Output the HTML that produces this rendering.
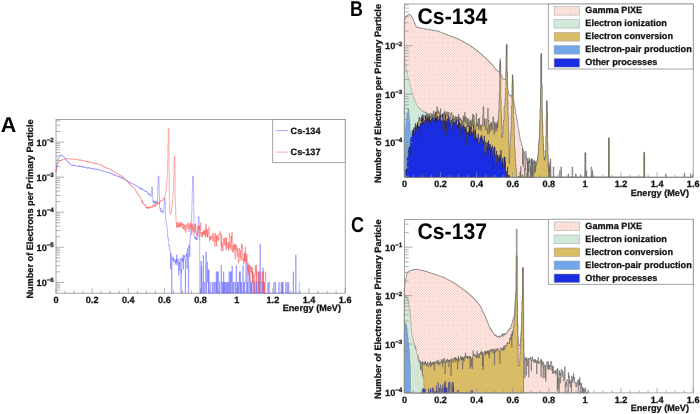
<!DOCTYPE html>
<html><head><meta charset="utf-8"><title>Electron spectra Cs-134 / Cs-137</title>
<style>html,body{margin:0;padding:0;background:#fff}svg{display:block;filter:blur(0.4px)}text{font-family:"Liberation Sans", sans-serif;font-weight:bold;fill:#141414;text-rendering:geometricPrecision}.t{font-size:9.15px;stroke:#141414;stroke-width:0.28px}.big{font-size:22.6px;fill:#000}.pn{font-size:21.5px;fill:#000}</style></head><body>
<svg width="700" height="414" viewBox="0 0 700 414">
<defs><pattern id="hx" width="33" height="33" patternUnits="userSpaceOnUse"><rect width="33" height="33" fill="#fffaf8"/><path d="M30.46 0L33 2.54M27.92 0L33 5.08M25.38 0L33 7.62M22.85 0L33 10.15M20.31 0L33 12.69M17.77 0L33 15.23M15.23 0L33 17.77M12.69 0L33 20.31M10.15 0L33 22.85M7.62 0L33 25.38M5.08 0L33 27.92M2.54 0L33 30.46M0 0L33 33M0 2.54L30.46 33M0 5.08L27.92 33M0 7.62L25.38 33M0 10.15L22.85 33M0 12.69L20.31 33M0 15.23L17.77 33M0 17.77L15.23 33M0 20.31L12.69 33M0 22.85L10.15 33M0 25.38L7.62 33M0 27.92L5.08 33M0 30.46L2.54 33M0 2.54L2.54 0M0 5.08L5.08 0M0 7.62L7.62 0M0 10.15L10.15 0M0 12.69L12.69 0M0 15.23L15.23 0M0 17.77L17.77 0M0 20.31L20.31 0M0 22.85L22.85 0M0 25.38L25.38 0M0 27.92L27.92 0M0 30.46L30.46 0M0 33L33 0M2.54 33L33 2.54M5.08 33L33 5.08M7.62 33L33 7.62M10.15 33L33 10.15M12.69 33L33 12.69M15.23 33L33 15.23M17.77 33L33 17.77M20.31 33L33 20.31M22.85 33L33 22.85M25.38 33L33 25.38M27.92 33L33 27.92M30.46 33L33 30.46" stroke="#f5baae" stroke-width="0.6" stroke-linecap="square"/></pattern></defs>
<rect width="700" height="414" fill="#fff"/>
<g id="panelA">
<rect x="56" y="119.4" width="289.2" height="173.8" fill="none" stroke="#8f8f8f" stroke-width="0.8"/>
<path d="M56 293.2v-5M65.04 293.2v-2.6M74.08 293.2v-2.6M83.11 293.2v-2.6M92.15 293.2v-5M101.19 293.2v-2.6M110.22 293.2v-2.6M119.26 293.2v-2.6M128.3 293.2v-5M137.34 293.2v-2.6M146.38 293.2v-2.6M155.41 293.2v-2.6M164.45 293.2v-5M173.49 293.2v-2.6M182.52 293.2v-2.6M191.56 293.2v-2.6M200.6 293.2v-5M209.64 293.2v-2.6M218.67 293.2v-2.6M227.71 293.2v-2.6M236.75 293.2v-5M245.79 293.2v-2.6M254.82 293.2v-2.6M263.86 293.2v-2.6M272.9 293.2v-5M281.94 293.2v-2.6M290.97 293.2v-2.6M300.01 293.2v-2.6M309.05 293.2v-5M318.09 293.2v-2.6M327.12 293.2v-2.6M336.16 293.2v-2.6M345.2 293.2v-5M56 290.19h4.2M56 287.84h4.2M56 285.8h4.2M56 284.01h4.2M56 282.4h8M56 271.83h4.2M56 265.65h4.2M56 261.27h4.2M56 257.87h4.2M56 255.09h4.2M56 252.74h4.2M56 250.7h4.2M56 248.91h4.2M56 247.3h8M56 236.73h4.2M56 230.55h4.2M56 226.17h4.2M56 222.77h4.2M56 219.99h4.2M56 217.64h4.2M56 215.6h4.2M56 213.81h4.2M56 212.2h8M56 201.63h4.2M56 195.45h4.2M56 191.07h4.2M56 187.67h4.2M56 184.89h4.2M56 182.54h4.2M56 180.5h4.2M56 178.71h4.2M56 177.1h8M56 166.53h4.2M56 160.35h4.2M56 155.97h4.2M56 152.57h4.2M56 149.79h4.2M56 147.44h4.2M56 145.4h4.2M56 143.61h4.2M56 142h8M56 131.43h4.2M56 125.25h4.2M56 120.87h4.2" stroke="#8f8f8f" stroke-width="0.7" fill="none"/>
<text x="56" y="302.7" text-anchor="middle" class="t">0</text>
<text x="92.15" y="302.7" text-anchor="middle" class="t">0.2</text>
<text x="128.3" y="302.7" text-anchor="middle" class="t">0.4</text>
<text x="164.45" y="302.7" text-anchor="middle" class="t">0.6</text>
<text x="200.6" y="302.7" text-anchor="middle" class="t">0.8</text>
<text x="236.75" y="302.7" text-anchor="middle" class="t">1</text>
<text x="272.9" y="302.7" text-anchor="middle" class="t">1.2</text>
<text x="309.05" y="302.7" text-anchor="middle" class="t">1.4</text>
<text x="345.2" y="302.7" text-anchor="middle" class="t">1.6</text>
<text x="53.8" y="145.7" text-anchor="end" class="t">10<tspan dy="-3.8" font-size="6.2">−2</tspan></text>
<text x="53.8" y="180.8" text-anchor="end" class="t">10<tspan dy="-3.8" font-size="6.2">−3</tspan></text>
<text x="53.8" y="215.9" text-anchor="end" class="t">10<tspan dy="-3.8" font-size="6.2">−4</tspan></text>
<text x="53.8" y="251" text-anchor="end" class="t">10<tspan dy="-3.8" font-size="6.2">−5</tspan></text>
<text x="53.8" y="286.1" text-anchor="end" class="t">10<tspan dy="-3.8" font-size="6.2">−6</tspan></text>
<text x="341" y="311.4" text-anchor="end" class="t">Energy (MeV)</text>
<text transform="translate(33.2 298.6) rotate(-90)" class="t" textLength="179.2" lengthAdjust="spacingAndGlyphs">Number of Electrons per Primary Particle</text>
<path d="M55.9 172.4V172.4H56.1V169.6H56.4V167.2H56.7V164.4H57V162.7H57.3V160.3H57.6V159.5H57.9V159.2H58.2V158.8H58.5V158H58.8V157.6H59V157.2H59.3V157H59.6V156.5H59.9V155.6H60.2V155.2H60.8V155H61.1V154.8H61.4V154.9H61.6V155.6H61.9V155.4H62.2V155.9H62.5V156.3H63.1V156.4H63.4V156.8H63.7V156.7H64V157.1H64.3V157.4H64.5V157.8H64.8V158.1H65.1V158.5H65.4V158.8H65.7V159.3H66V159.7H66.3V160.1H66.6V160.7H66.9V160.4H67.1V161.4H67.7V161.5H68V162.1H68.3V162.4H68.6V162.9H68.9V162.6H69.2V163.2H69.5V163.4H69.8V163.2H70V163.6H70.3V164.3H70.6V164.5H70.9V164.9H71.2V165H71.5V165.1H72.1V165.4H72.4V165H72.6V165.2H72.9V165.4H73.2V164.9H73.5V165.7H73.8V165.2H74.1V165.5H74.4V166.1H74.7V165.4H75V165.5H75.3V166.1H75.5V165.5H75.8V165.7H76.1V166H76.7V166.1H77.3V166.4H77.9V166.3H78.1V166H78.4V166.1H78.7V165.8H79V166.5H79.3V165.9H79.6V166.7H79.9V167H80.2V166.3H80.5V166.4H80.8V166.5H81V166.9H81.3V166.5H81.6V166.8H81.9V166.7H82.2V166.8H82.5V167.3H82.8V166.7H83.1V167.1H83.4V167.2H83.6V167.3H83.9V166.9H84.2V167.5H84.5V167.4H84.8V167.5H85.1V167.4H85.4V167H85.7V167.3H86V167.7H86.3V167.6H86.8V168.1H87.1V168.3H87.4V167.7H87.7V168.3H88V167.4H88.6V168.2H88.9V167.9H89.1V168.2H89.7V168.1H90V168.4H90.3V168.3H90.6V167.9H90.9V168.4H91.5V168.9H91.8V168.2H92V168.5H92.6V168.6H92.9V169.1H93.2V168.8H93.5V168.7H93.8V168.9H94.1V169.1H94.4V168.7H94.6V168.9H94.9V169.4H95.2V169.3H95.5V169.1H95.8V169H96.1V169.2H96.4V168.9H96.7V169.5H97V169.4H97.5V169.1H97.8V169.3H98.1V169.7H98.7V169.6H99V170H99.3V170.1H99.6V169.8H99.9V170H100.7V170.5H101.3V170.6H101.6V170.3H101.9V170.4H102.2V170.7H102.8V171H103V170.8H103.3V171.3H103.6V171.6H103.9V171.7H104.2V171.8H104.5V171.5H104.8V171.7H105.1V171.5H105.4V171.9H105.6V171.7H106.2V171.8H106.5V172.2H107.4V172H107.7V172.4H108V172.1H108.3V172.9H108.5V172.6H108.8V172.8H109.4V172.5H109.7V172.6H110V173H110.3V173.6H110.6V173H110.9V173.2H111.1V173.5H111.4V173.2H111.7V173.4H112V173.8H112.3V174H112.6V174.1H112.9V174.7H113.2V174.4H113.5V174.6H113.8V175.1H114V175.2H114.3V174.5H114.6V174.9H114.9V175.4H115.2V174.9H115.5V175.2H116.1V175.3H116.4V175.5H116.6V175.9H116.9V176.3H117.2V176.5H117.5V176.3H117.8V175.9H118.1V176.5H118.7V176.8H119.3V176.5H119.5V177.2H119.8V176.7H120.1V177.2H120.4V177.6H120.7V177.7H121V178.1H121.3V177.3H121.6V178.1H121.9V178.3H122.1V178.1H122.4V178.5H122.7V178.2H123V178.8H123.3V178.9H123.6V178.7H123.9V179H124.2V179.2H124.5V179.3H124.8V179.8H125.3V180.2H125.6V180.3H125.9V180.2H126.2V180.3H126.8V180.5H127.1V180.6H127.4V181.1H127.6V180.9H127.9V181.3H128.2V181.5H128.8V181.7H129.1V182.3H129.4V182.5H129.7V182H130V182.3H130.3V182.4H130.5V182.6H130.8V183.2H131.4V183.5H131.7V183.8H132V183.4H132.3V183.6H132.6V183.8H132.9V184.2H133.1V184.1H133.4V184.4H133.7V184.7H134V184.8H134.6V184.7H134.9V184.6H135.2V185.5H135.8V185.3H136V185.6H136.3V185.8H136.6V185.6H136.9V186.3H137.2V186.2H137.5V186.5H137.8V187H138.1V186.9H138.4V187.3H138.6V187.4H138.9V187.5H139.2V187.7H139.5V188.4H139.8V187.9H140.1V188.7H140.4V188H140.7V188.8H141V188.7H141.3V188.6H141.5V188.1H141.8V189.8H142.1V189H142.4V189.2H142.7V189.8H143V189.9H143.3V190.2H143.9V189.9H144.1V190.9H144.4V190.4H144.7V191H145V191.4H145.3V191.8H145.6V191.4H145.9V191.5H146.2V191.7H146.5V191.2H146.8V191.9H147V192.1H147.3V192.3H147.6V193.1H148.2V194.3H148.5V194.5H148.8V193.1H149.1V194.4H149.4V194.1H149.6V195.1H149.9V195.2H150.2V195.8H150.5V195.7H150.8V196.2H151.1V195.4H151.4V191H151.7V187H152.3V189.3H152.5V196.1H152.8V201.3H153.1V200.8H153.4V202.4H153.7V201.5H154V203H154.3V201.2H154.6V202.6H154.9V201.5H155.2V202.9H155.4V203.9H155.7V201.8H156V202.2H156.3V202.7H156.6V202.1H156.9V201.1H157.2V203.5H157.5V196.7H157.8V188H158V179.3H158.3V176H158.9V183H159.2V195.8H159.5V206.9H159.8V208.4H160.1V209.3H160.4V209.7H160.7V208.3H160.9V212H161.2V210.6H161.5V211.3H161.8V211.9H162.1V211.8H162.4V211.1H162.7V211.7H163V213.2H163.3V210.7H163.5V210.3H163.8V208.4H164.1V202.6H164.4V198H165V202.6H165.3V212.2H165.6V219.7H165.9V221.5H166.2V223.9H166.4V224.2H166.7V226H167V230.1H167.3V230.7H167.6V237.4H167.9V237.6H168.2V239.3H168.5V240.2H168.8V246.1H169V245.7H169.3V246.1H169.6V249.8H169.9V250.1H170.2V252.6H170.5V269.2H170.8V253.2H171.1V255.9H171.4V257H171.7V293.2H171.9V259.4H172.2V258.5H172.5V257.5H172.8V259.8H173.1V257.3H173.4V261.3H173.7V260.4H174V261.8H174.3V259.9H174.5V259.6H174.8V259.7H175.1V264.5H175.4V262H175.7V262.3H176V258.9H176.3V262.7H176.6V254.9H176.9V265.5H177.2V261.8H177.4V262.3H177.7V258.9H178V259.5H178.3V263.1H178.6V275.2H178.9V262.4H179.2V264.1H179.5V262.7H179.8V270.9H180V258.7H180.3V258.3H180.6V258.6H180.9V293.2H181.2V269.9H181.5V272.6H181.8V258.7H182.1V260.9H182.4V258.7H182.7V262.1H182.9V254.8H183.2V269.4H183.5V258.5H183.8V257.1H184.1V255.2H184.4V258.6H184.7V258.9H185V259H185.3V293.2H185.5V269.6H185.8V255.7H186.1V255H186.4V256.6H186.7V253.2H187V268.4H187.3V248.5H187.6V253.6H187.9V254.5H188.2V264.5H188.4V293.2H188.7V245.9H189V247.6H189.3V244.6H189.6V256.6H189.9V239.7H190.2V236.8H190.5V233.9H190.8V231H191V228.1H191.3V225.2H191.6V214H191.9V202.1H192.2V190.3H192.5V178.5H192.8V176H193.4V190.8H193.7V211.3H193.9V231.9H194.2V235.8H194.5V237.9H194.8V238H195.1V236.9H195.4V239.4H195.7V237.1H196V237.7H196.3V239.4H196.5V238.4H196.8V239.8H197.1V237.6H197.4V237.3H197.7V234.4H198V225H198.3V216.5H198.9V217.3H199.2V238.7H199.4V239.1H199.7V293.2H200.9V261.3H201.2V293.2H201.5V265.9H201.8V282.3H202.3V293.2H202.9V282.3H203.2V255.4H203.5V293.2H204.1V282.3H204.7V293.2H205.5V265.3H205.8V252H206.4V293.2H206.7V282.3H207V262.8H207.3V262.2H207.5V282.3H208.1V269.4H208.4V293.2H208.7V270.3H209V293.2H209.9V282.3H210.7V293.2H212.2V282.3H212.5V293.2H213.6V282.3H214.2V293.2H214.5V282.3H215.7V293.2H215.9V282.3H216.2V271.7H216.5V293.2H216.8V282.3H217.1V293.2H217.4V271.7H217.7V282.3H218V271.7H218.3V293.2H219.1V282.3H219.7V293.2H220V282.3H221.2V265.5H221.4V293.2H222V282.3H222.3V293.2H222.9V282.3H223.2V293.2H223.5V271.7H223.8V293.2H224.3V282.3H224.6V293.2H224.9V282.3H225.5V293.2H226.1V282.3H226.4V293.2H227.2V282.3H227.5V293.2H227.8V282.3H228.1V293.2H228.7V282.3H229V271.7H229.3V282.3H229.5V293.2H229.8V282.3H230.1V293.2H230.4V271.7H230.7V282.3H231V271.7H231.3V293.2H231.9V266H232.4V293.2H233V282.3H233.3V293.2H233.6V282.3H234.8V293.2H235.6V282.3H235.9V293.2H236.2V265.5H236.5V282.3H237.4V293.2H237.7V282.3H237.9V293.2H238.2V282.3H238.8V293.2H239.4V271.7H239.7V282.3H240V271.7H240.3V293.2H240.5V282.3H240.8V293.2H241.4V282.3H241.7V293.2H242.9V265.5H243.2V282.3H243.4V293.2H244V282.3H244.3V293.2H244.6V282.3H245.8V262H246.3V293.2H246.9V282.3H247.5V293.2H247.8V265.5H248.1V293.2H249.2V282.3H249.5V271.7H249.8V282.3H250.1V293.2H250.4V282.3H250.7V293.2H251.3V282.3H251.6V293.2H251.8V282.3H252.4V271.7H252.7V293.2H253.6V282.3H253.9V293.2H254.7V282.3H255V293.2H256.2V282.3H256.5V293.2H256.8V282.3H257.1V293.2H258.5V271.7H258.8V282.3H259.1V293.2H259.4V282.3H259.7V293.2H259.9V244.5H260.5V293.2H261.4V282.3H262V293.2H262.6V282.3H262.8V268H263.4V293.2H263.7V282.3H264V293.2H267.8V282.3H268.1V293.2H268.9V282.3H269.2V293.2H273.8V282.3H274.1V293.2H275.3V282.3H275.6V293.2H278.8V282.3H279.1V293.2H281.1V282.3H281.4V293.2H282.2V282.3H282.5V293.2H282.8V282.3H283.1V293.2H285.7V282.3H286V293.2H287.2V282.3H287.4V293.2H288.6V282.3H288.9V293.2H293.2V271.7H293.5V293.2H295.6V255H296.1V293.2H299.3V282.3H299.6" fill="none" stroke="#5c5cff" stroke-width="0.52" opacity="0.86"/>
<path d="M55.9 172.1V172.1H56.1V170.6H56.4V169.3H56.7V167.5H57V165.6H57.3V164.2H57.6V163.6H57.9V163.5H58.2V163H58.5V162.5H58.8V162.2H59V161.8H59.3V161.5H59.6V160.6H59.9V160.8H60.2V160.9H60.5V160.4H60.8V160H61.1V160.4H61.4V160H61.6V160.4H61.9V160H62.2V159.9H62.5V159.5H62.8V159.4H63.1V159.6H63.4V159.2H63.7V159H64V159.3H64.3V159.2H64.8V159.1H65.1V159.3H65.4V158.9H65.7V158.7H66V158.8H66.3V159H66.6V158.9H66.9V158.5H67.1V158.4H67.4V158.5H67.7V158.4H68V158.3H68.6V158.4H68.9V158.7H69.5V158.5H70V158.7H70.3V158.8H70.6V158.9H70.9V159.1H71.2V159.4H71.5V159H72.4V158.7H72.6V159.2H74.1V159.4H74.4V159.5H74.7V159.3H75V159.1H75.3V159.6H75.5V159.5H76.1V159.4H76.4V159.5H76.7V159.6H77V159.4H77.3V159.9H77.6V159.7H77.9V159.8H78.1V159.6H78.4V159.9H78.7V159.8H79V160.2H79.3V160H79.6V160.4H79.9V159.7H80.2V160H80.8V160.2H81V160H81.3V160.2H81.6V160.1H81.9V160.6H82.2V160.4H82.5V160.6H82.8V160.5H83.1V160.6H83.6V160.9H83.9V161H84.2V160.8H84.5V161H84.8V161.1H85.4V161.2H85.7V161.1H86V161.3H86.3V160.9H86.5V161.5H87.1V161.2H87.4V162H87.7V161.8H88V162.2H88.3V161.7H88.6V162H88.9V162.2H89.4V161.9H89.7V162.3H90V162.2H90.3V162.3H90.6V162.6H90.9V162.5H91.2V162.7H92V162.8H92.3V162.9H92.6V162.5H93.2V163.2H93.5V163.3H94.1V163.2H94.4V163.5H94.6V163.1H94.9V163.2H95.2V163.7H95.5V163.2H95.8V163.7H96.1V163.8H96.4V163.3H96.7V163.7H97.3V164H97.8V164.1H98.1V164.2H98.4V164.3H99V164.4H99.3V164.5H99.6V164.2H99.9V164.5H100.1V164.9H100.4V164.7H100.7V164.9H101V165.1H101.3V165.7H101.9V166.1H102.2V165.6H102.5V166.1H102.8V166.2H103V166.6H103.3V166.3H103.6V167H103.9V166.7H104.2V167.1H104.5V167.4H104.8V167.3H105.1V167.6H105.4V167.4H105.6V167.7H105.9V167.5H106.2V167.6H106.5V168.2H106.8V168.1H107.4V168.6H108V168.5H108.3V168.7H108.5V168.5H108.8V168.6H109.1V168.8H109.4V169.1H110V169.5H110.3V169.7H110.6V169.8H110.9V170H111.1V170.1H111.4V169.8H111.7V170.5H112V170.2H112.3V171H112.9V171.2H113.5V171.6H113.8V171.7H114V171.9H114.3V172H114.6V172.1H114.9V172H115.2V172.7H115.5V172.8H115.8V172.9H116.4V173H116.6V173.4H116.9V173.5H117.2V173.7H117.5V173.6H117.8V173.8H118.1V174.3H118.4V174.4H118.7V174.5H119V174.9H119.3V175.1H119.5V175.4H119.8V175.3H120.4V175.4H120.7V175.8H121V175.7H121.3V176.2H121.6V176.3H121.9V176.2H122.1V176.5H122.4V176.6H122.7V177.3H123V176.9H123.3V177.3H123.6V177.9H123.9V178.2H124.2V178.4H124.5V178.8H124.8V179.1H125V179.7H125.6V179.8H125.9V180.2H126.2V180.6H126.5V180.9H126.8V181.1H127.1V181.5H127.9V182.3H128.2V182.4H128.5V182.7H128.8V183.6H129.1V183.2H129.4V183.8H129.7V184.1H130V184.3H130.3V184.2H130.5V185H130.8V185.2H131.1V185.4H131.4V185.7H131.7V185.6H132V186.6H132.3V186.5H132.6V186.6H132.9V187.3H133.1V187.1H133.4V187.5H133.7V187.8H134V188.4H134.3V188.5H134.6V188.6H134.9V189.3H135.2V189.7H135.5V190.3H135.8V190.7H136V191.8H136.3V191.6H136.6V192.6H136.9V192.8H137.2V193H137.5V193.6H137.8V193.7H138.1V194.3H138.4V195.1H138.6V194.7H138.9V195.8H139.2V195.7H139.5V196.6H139.8V196.7H140.1V196.6H140.4V197.8H140.7V199.2H141V199.7H141.5V200.7H141.8V202.1H142.1V200.7H142.4V203.5H142.7V202.9H143V202.4H143.3V203.2H143.6V203.3H143.9V205.1H144.1V204.8H144.7V205.2H145V205.4H145.3V204.6H145.6V206.5H145.9V207.8H146.2V207.1H146.5V207.5H146.8V206.7H147V207.9H147.3V208.2H147.6V206.6H147.9V208.7H148.2V207.8H148.5V207.4H148.8V208.5H149.1V207H149.4V207.2H149.6V207.7H149.9V207.4H150.2V208.1H150.5V207.4H150.8V206.9H151.1V206.1H151.4V206.4H151.7V207.3H152V207.1H152.3V207.4H152.5V206H152.8V206.7H153.1V204.3H153.4V206.1H153.7V205.8H154V206.1H154.3V206.2H154.6V204.6H154.9V206.5H155.2V205H155.4V205.7H155.7V205.3H156V203.7H156.3V203.5H156.6V204.8H156.9V204.4H157.2V204.2H157.5V204H157.8V203.3H158V203.9H158.3V203.2H158.6V203.8H158.9V203.7H159.2V201.9H159.5V202.8H159.8V201.7H160.4V201.3H160.7V200.7H160.9V201.2H161.2V200H161.5V200.5H161.8V200.8H162.1V200.6H162.4V199.3H162.7V199.1H163V198.6H163.3V198.2H163.5V198.8H163.8V198.2H164.1V197.3H164.4V197.2H164.7V196.2H165V194.8H165.3V193.4H165.6V191.3H165.9V190.3H166.2V188.8H166.4V187H166.7V181.7H167V177.2H167.3V172.8H167.6V161.5H167.9V144.6H168.2V128.6H168.5V129.2H168.8V129H169V173.2H169.3V197.4H169.6V209.8H169.9V212.7H170.2V214.2H170.5V213.4H170.8V212.9H171.1V212H171.4V210H171.7V208H171.9V205.5H172.2V204.2H172.5V200.6H172.8V196.7H173.1V192.6H173.4V189.1H173.7V178.4H174V164.7H174.3V156.3H174.8V165.3H175.1V196.9H175.4V206.9H175.7V214.6H176V222.5H176.3V222.6H176.6V227.7H176.9V222.8H177.2V227H177.4V226.2H177.7V226.7H178V222.2H178.3V227H178.6V225.6H178.9V226.7H179.2V223.9H179.5V227.4H179.8V225.5H180V222.4H180.3V226.1H180.6V222.3H180.9V222.6H181.2V227.3H181.5V223.2H181.8V223.8H182.1V224.6H182.4V223.5H182.7V223.7H182.9V228.7H183.2V224.1H183.5V228H183.8V227.9H184.1V230.7H184.4V224.9H184.7V227.4H185V225.3H185.3V225.8H185.5V227.1H185.8V232.6H186.1V226.3H186.4V226H186.7V224.4H187V223.8H187.3V228.7H187.6V228.9H187.9V223H188.2V223.6H188.4V225.1H188.7V228H189V231.7H189.3V224.9H189.6V227.6H189.9V228.9H190.2V222.2H190.5V227.3H190.8V227H191V226.7H191.3V224.5H191.6V234.6H191.9V228.9H192.2V230.9H192.5V223.8H192.8V228.3H193.1V226.5H193.4V227.8H193.7V232.6H193.9V232.1H194.2V227.9H194.5V227.2H194.8V224.2H195.1V232.5H195.4V223.5H195.7V229H196V232.6H196.3V233.3H196.5V236.1H196.8V234.6H197.1V230.8H197.4V234.9H197.7V227.2H198V229.9H198.3V226.4H198.6V226.8H198.9V229.8H199.2V227.4H199.4V225.5H199.7V237.4H200V230.1H200.3V226.8H200.6V222.8H200.9V234.1H201.2V232.7H201.5V236.4H201.8V236.7H202V232.2H202.3V236.7H202.6V234.8H202.9V231.9H203.2V234.5H203.5V230.9H203.8V233.9H204.1V230.7H204.4V234.6H204.7V230.2H204.9V229.8H205.2V237.5H205.5V235.3H205.8V224.2H206.1V235.5H206.4V228.3H206.7V232.1H207V237.2H207.3V237.1H207.5V229.7H207.8V237.1H208.1V233.5H208.4V232.9H208.7V226.9H209.3V234.6H209.6V241H209.9V236.4H210.2V239.9H210.4V236.5H210.7V239.4H211V237.5H211.3V236.5H211.6V236.4H211.9V238.2H212.2V235.1H212.5V233.3H212.8V241.2H213V241.7H213.3V238.1H213.6V239.1H213.9V233.8H214.2V237.7H214.5V237.5H214.8V246.5H215.1V234.5H215.4V233.6H215.7V236.2H215.9V241.9H216.2V235.6H216.5V246.1H216.8V236.6H217.1V237.6H217.4V235.7H217.7V235.2H218V241.1H218.3V237.9H218.5V239.9H218.8V234.6H219.1V233.1H219.4V233.5H219.7V234.9H220V231.2H220.3V233.9H220.6V239.3H220.9V242.3H221.2V251.1H221.4V234.6H221.7V247.1H222V242.9H222.3V245.3H222.6V247.5H222.9V251H223.2V242.2H223.5V238.3H223.8V243.8H224V245.1H224.3V244.2H224.6V238H224.9V243.7H225.2V245.7H225.5V242.4H225.8V237.4H226.1V249.7H226.4V238.4H226.7V247.9H226.9V248.2H227.2V243.8H227.5V243.1H227.8V242.7H228.1V246.1H228.4V250.4H228.7V241.9H229V248.7H229.3V233.3H229.5V236.1H229.8V236.5H230.1V247.3H230.4V244.4H230.7V244H231V249.8H231.3V235.9H231.6V242.7H231.9V232.3H232.2V247.8H232.4V251.9H232.7V248.1H233V245H233.3V252.3H233.6V244.3H233.9V243.8H234.2V249.4H234.5V244.9H234.8V245H235V259.1H235.3V244.2H235.6V249.4H235.9V250.1H236.2V245.6H236.5V245.4H236.8V252.5H237.1V256.7H237.4V248.6H237.7V250.3H237.9V251.2H238.2V262.9H238.5V260.1H238.8V261H239.1V248H239.4V250.1H239.7V256.4H240V258.1H240.3V252.8H240.5V250.1H240.8V259.4H241.1V260.6H241.4V243.7H241.7V249.1H242V245.1H242.3V248.3H242.6V259.6H242.9V260.5H243.2V258.4H243.4V258.2H243.7V263.9H244V253.1H244.3V260.5H244.6V254.3H244.9V261.8H245.2V246.8H245.5V261.4H245.8V252.8H246V258.4H246.3V262.1H246.6V255.3H246.9V254.5H247.2V264.5H247.5V269.9H247.8V262.6H248.1V274.9H248.4V271.7H248.7V264.8H248.9V271.4H249.2V272.1H249.5V265H249.8V282.3H250.1V268.7H250.4V266.2H250.7V271.1H251V271.7H251.3V271.6H251.6V266.9H251.8V273.6H252.1V268.2H252.4V282.3H252.7V271.7H253V282.3H253.9V274.5H254.2V282.3H254.4V293.2H254.7V282.3H255V271.1H255.3V265.4H255.6V271.2H255.9V275.4H256.2V265.1H256.5V282.3H256.8V271.7H257.1V282.3H258.2V293.2H258.5V282.3H258.8V271.7H259.1V282.3H259.9V271.7H260.2V282.3H262V271.7H262.3V282.3H262.8V293.2H263.1V271.7H263.4V293.2H263.7V282.3H264V293.2H264.3V282.3H264.6V293.2H265.2V282.3H265.4V271.7H265.7V282.3H266" fill="none" stroke="#ff4c4c" stroke-width="0.52" opacity="0.86"/>
<rect x="272.7" y="119.4" width="72.5" height="43.3" fill="#fff" stroke="#8f8f8f" stroke-width="0.8"/>
<path d="M276 130.6H288" stroke="#8484ff" stroke-width="0.7"/><path d="M276 152.1H288" stroke="#ff8484" stroke-width="0.7"/>
<text x="290.6" y="133.9" class="t">Cs-134</text><text x="290.6" y="155.4" class="t">Cs-137</text>
<text x="0.7" y="131.9" class="pn">A</text>
</g>
<g id="panelB">
<path d="M404.3 177.3V20H404.7V19H405V18.1H405.4V17.3H405.8V17H406.1V16.1H406.5V15.9H406.8V15.8H407.2V15H407.6V15.1H407.9V14.8H408.3V14.7H408.7V14.5H409V14.1H409.4V14.3H409.7V14.8H410.1V15.1H410.8V15.3H411.2V16.1H411.5V16.6H411.9V17.5H412.3V18.1H412.6V18.5H413V19.4H413.4V20H413.7V21.2H414.1V22.2H414.4V22.9H414.8V23.7H415.2V24.8H415.5V25.6H415.9V26.2H416.2V26.7H416.6V27.1H417V27.3H417.3V27.1H418V27.5H418.8V27.4H419.1V27.9H419.5V28H419.9V27.8H420.2V28H420.6V28.1H420.9V28H421.3V28.1H421.7V28.2H422V28.5H422.4V28.4H423.5V28.5H424.2V28.7H424.6V28.9H424.9V28.8H425.3V29H425.6V29.2H426V29.1H426.4V29.4H427.1V29.3H428.9V29.6H429.3V29.4H429.6V29.8H430V29.7H430.3V30.1H430.7V30H431.8V29.9H432.1V30.1H432.5V30.4H432.9V30H433.2V30.3H433.6V30.5H433.9V30.6H434.3V30.4H434.7V30.8H435.4V30.9H435.8V30.7H436.1V30.9H436.8V31H437.2V30.9H437.6V31.1H437.9V31.2H438.3V31.1H438.6V31.7H439V31.5H439.4V31.9H440.1V32H440.5V32.2H440.8V32.4H441.2V32.5H441.5V32.7H441.9V32.8H442.6V32.9H443V33.2H443.7V33.3H444.1V33.7H444.4V33.6H444.8V33.8H445.1V34.2H445.5V34.1H445.9V34.2H446.6V34.4H447.3V35.2H447.7V35H448.4V35.3H448.8V35.6H449.1V35.3H449.5V35.8H450.2V36.2H450.9V36.1H451.3V36.5H451.7V36.7H452V36.6H452.7V37H453.5V37.2H453.8V37.4H454.2V37.8H454.5V37.7H455.3V38.1H456.4V38.4H456.7V38.6H457.1V38.9H457.4V39H457.8V38.6H458.2V39.1H458.5V39.2H458.9V39.6H459.2V39.8H459.6V39.7H460V39.9H460.3V40.3H460.7V40.2H461V40.3H461.4V40.8H461.8V40.7H462.1V41.1H462.5V41.3H462.9V41.6H463.2V42.1H463.6V41.8H463.9V42.3H464.7V42.7H465V42.6H465.4V43.2H465.7V43.1H466.1V43.3H466.5V43.5H466.8V43.6H467.2V43.8H467.6V44.2H467.9V44.3H468.3V44.6H468.6V44.8H469.4V45.3H470.1V45.5H470.4V46H471.2V46.6H471.9V46.9H472.2V47.1H472.6V47.5H473V47.8H473.3V48H473.7V48.2H474.1V48.4H474.4V48.7H474.8V49.2H475.1V49.3H475.5V49.7H475.9V50H476.2V50.1H476.6V50.5H476.9V50.6H477.3V51.1H477.7V51.2H478V51.8H478.8V52.5H479.5V52.6H479.8V53H480.2V53.4H480.6V53.6H480.9V54.1H481.3V54.4H481.6V54.6H482V54.8H482.4V55.3H482.7V55.6H483.1V55.9H483.4V56.5H483.8V56.8H484.2V57.1H484.5V57.3H484.9V57.7H485.3V58H485.6V58.1H486V58.4H486.3V58.7H486.7V59.2H487.1V59.8H487.4V60H487.8V60.4H488.1V60.5H488.5V61.3H488.9V61.4H489.2V61.8H489.6V62H490V62.2H490.3V62.6H490.7V63.3H491V63.8H491.8V64.2H492.1V64.6H492.5V65H492.8V65.6H493.2V66.2H493.9V67.1H494.3V67.4H494.7V67.9H495V68.4H495.4V69.1H495.7V69.3H496.1V69.7H496.5V70.1H496.8V70.5H497.2V70.7H497.5V71.4H497.9V71.3H498.3V71.6H498.6V71.7H499V72.1H499.3V72H499.7V64.6H500.1V58.6H500.4V65.7H500.8V74.2H501.2V75.4H501.5V76H501.9V76.8H502.2V77.9H502.6V78.5H503V79.1H503.3V79.2H503.7V79.3H504V79.2H504.4V79.1H504.8V79.4H505.1V79.5H505.5V79.3H505.9V70.5H506.2V45.1H506.6V44.3H506.9V72.2H507.3V88.5H507.7V90.2H508V91.7H508.4V93.1H508.7V94.6H509.1V94.9H509.5V95.5H509.8V95.6H510.2V95.9H510.5V95.8H510.9V96H511.3V96.3H511.6V96H512V82.9H512.4V74.8H512.7V79.4H513.1V96H513.4V100H513.8V102.2H514.2V104.6H514.5V106.2H514.9V108.3H515.2V110.6H515.6V113H516V115.2H516.3V117.3H516.7V119H517.1V121.1H517.4V123.3H517.8V125.4H518.1V127.8H518.5V129.7H518.9V131.4H519.2V133.8H519.6V135.8H519.9V138.9H520.3V140.6H520.7V141.3H521V142.4H521.4V144.7H521.8V145H522.1V145.8H522.5V164H522.8V148.8H523.2V167H523.6V160.6H523.9V151.4H524.3V154.1H524.6V156.5H525V170.8H525.4V165.2H525.7V151.3H526.1V153.7H526.4V159.3H526.8V157.9H527.2V173.2H527.5V161.1H527.9V176.5H528.3V160.8H528.6V171.9H529V157.8H529.3V163H529.7V159.8H530.1V162H530.4V172.3H530.8V177.3H531.1V158.9H531.5V161.2H531.9V176.7H532.2V159.1H532.6V176.1H533V160.6H533.3V162.5H533.7V163.8H534V163H534.4V160.3H534.8V162.4H535.1V177.3H535.5V161.5H535.8V164.4H536.2V164.5H536.6V163H536.9V161H537.3V159H537.6V157H538V153.4H538.4V148.4H538.7V143.4H539.1V138.5H539.5V132.8H539.8V120.5H540.2V108.2H540.5V88.8H540.9V54.9H541.3V53.2H541.6V84.7H542V110.8H542.3V123.4H542.7V136.1H543.1V144.2H543.4V150.2H543.8V156.2H544.2V159.8H544.5V158.5H544.9V158.8H545.2V158.3H545.6V150.6H546V135.7H546.3V116.8H546.7V100.6H547V112.8H547.4V143H547.8V155.9H548.1V161.5H548.5V177.3H548.9V164.8H549.2V172H549.6V167.7H549.9V168.1H550.3V158.8H550.7V169.2H551V177.3H553.2V167H553.9V177.3H559.3V174.2H559.7V170.5H560.1V177.3H560.8V167H561.5V177.3H568.4V173.8H568.7V177.3H572V167H572.7V177.3H575.6V173.9H575.9V175H576.3V177.3H580.6V174.5H581V177.3H585V152.4H585.7V177.3H586.4V171.1H586.8V177.3H591.1V167H591.8V177.3H592.2V170.4H592.6V177.3H608.5V137.8H609.2V177.3H643.9V152.2H644.6V177.3H665.6V173.8H665.9V177.3H684.3V173H684.7V177.3H690.5V173.9H690.9V177.3H692.3V175.5H692.7V177.3Z" fill="url(#hx)" fill-opacity="1" stroke="#555555" stroke-width="0.55" stroke-opacity="0.95"/>
<path d="M404.3 177.3V56.9H404.7V59.6H405V62.2H405.4V64.6H405.8V68.6H406.1V69.3H406.5V71H406.8V72.4H407.2V73.3H407.6V76H407.9V76.6H408.3V78.3H408.7V79.5H409V80.5H409.4V82.6H409.7V83.5H410.1V85.3H410.5V86.9H410.8V88.9H411.2V88.8H411.5V91.4H411.9V92.7H412.3V92.8H412.6V94.4H413V96H413.4V96.2H413.7V98.7H414.1V98.3H414.4V100.5H414.8V101H415.2V101.3H415.5V102.1H415.9V103.1H416.2V103.7H416.6V104.5H417V105.1H417.3V106.4H417.7V106.9H418V107.2H418.4V107.7H418.8V108H419.1V108.9H419.5V108.6H419.9V109.1H420.2V109H420.6V109.1H420.9V109.7H421.3V110.3H421.7V110.2H422V111.7H422.4V110.8H422.7V111.5H423.1V111.2H423.5V111.8H423.8V112.2H424.2V112.6H424.6V111.5H424.9V112.7H425.3V112H425.6V113.2H426V111.9H426.4V112.4H426.7V112.8H427.1V113.6H427.4V113.2H427.8V113.8H428.2V113.6H428.5V113.9H428.9V113.6H429.6V113.9H430V114H430.3V113.8H430.7V113.9H431.1V113.2H431.4V113.4H431.8V113.8H432.1V114H432.5V113.7H432.9V115.4H433.2V113.9H433.6V114.6H433.9V114.9H434.3V114.1H434.7V114.9H435V114.6H435.4V114.2H435.8V115.2H436.1V115.3H436.5V116.2H436.8V115.5H437.2V114.5H437.6V115.6H437.9V114.2H438.3V114.9H438.6V113.9H439V115.6H439.4V115.3H439.7V116.2H440.1V115.8H440.5V115.2H440.8V115.7H441.2V115.9H441.5V115.1H441.9V115.3H442.3V115.7H442.6V114.6H443V114.7H443.3V115.8H443.7V115.7H444.1V115.6H444.4V117.1H444.8V116.1H445.1V116.8H445.5V116.5H446.6V116.2H447V117.1H447.7V117.9H448V117.3H448.4V117.5H448.8V118.1H449.1V117.5H449.5V118.1H449.8V118.7H450.6V118.9H450.9V119.3H451.3V119.6H451.7V120.9H452V119.8H452.4V119.6H452.7V120.7H453.1V120.6H453.5V120.5H453.8V121.6H454.2V120.1H454.5V121.4H454.9V121.2H455.3V121.7H455.6V121.9H456V122.1H456.4V122.5H456.7V122H457.1V122.3H457.4V123.2H457.8V122.9H458.5V122.8H458.9V123.5H459.2V123.1H459.6V124.6H460V125.5H460.3V124.9H460.7V124.6H461V125.9H461.4V125H461.8V126.5H462.5V127.4H462.9V127.1H463.2V127.9H463.6V128.7H463.9V128.5H464.3V129.7H464.7V129.2H465V129.7H465.4V130.9H465.7V130.4H466.1V131H466.8V131.3H467.2V132.8H467.6V132.7H467.9V132.4H468.3V133.1H468.6V133.7H469V134.6H469.4V134.8H469.7V135.1H470.1V135H470.4V137.3H470.8V136.7H471.2V137.8H471.5V138.3H471.9V139.8H472.2V140H472.6V140.9H473V141.3H473.3V141.9H473.7V142.9H474.1V143.8H474.4V144.6H474.8V145.3H475.1V146.1H475.5V145.4H475.9V147.2H476.2V148H476.6V149H477.3V149.3H477.7V149.9H478V151H478.4V151.4H478.8V152.8H479.1V154.1H479.5V153.8H479.8V154.7H480.2V156.1H480.6V157.3H480.9V159.8H481.3V160.1H481.6V162.4H482V163.2H482.4V164.1H482.7V165.9H483.1V167.3H483.4V168.2H483.8V169.9H484.2V172H484.5V173H485.3V176.2H485.6V177.3Z" fill="#d2e9d9" fill-opacity="1" stroke="#555555" stroke-width="0.35" stroke-opacity="0.6"/>
<path d="M414.1 177.3V137.8H414.4V134.5H414.8V135.4H415.2V137.1H415.5V135.1H415.9V126.3H416.2V129.5H416.6V125.6H417V127.7H417.3V123.4H417.7V122.7H418V122.4H418.4V120.1H418.8V117.7H419.1V116.8H419.5V121.6H419.9V118.3H420.2V118.8H420.6V120.8H420.9V119.2H421.3V120.9H421.7V115.7H422V121H422.4V118.3H422.7V118.7H423.1V122H423.5V117.9H423.8V115.9H424.2V117H424.6V116.6H424.9V117H425.3V115H425.6V117.2H426V118.7H426.4V113.4H426.7V117.1H427.1V114.9H427.4V116.9H427.8V114.4H428.2V118.3H428.5V115.9H428.9V113.9H429.3V114H429.6V114.8H430V116.7H430.3V115.8H430.7V117.7H431.1V113.7H431.4V114.1H431.8V115.4H432.1V119.9H432.5V114.4H432.9V116.6H433.2V117.1H433.6V110.8H433.9V113.4H434.3V114.8H434.7V114.1H435V115.9H435.4V115.6H435.8V111.7H436.1V112H436.5V112.4H436.8V106.6H437.2V109.5H437.6V113.8H437.9V112.9H438.3V110.4H438.6V112.5H439V113.3H439.4V112.6H439.7V116.5H440.1V113.8H440.5V108.6H440.8V115.6H441.2V116.5H441.5V117.5H441.9V115.2H442.3V114.2H442.6V117.2H443V115.4H443.3V113.7H443.7V115.3H444.1V112.2H444.4V114.8H444.8V110.7H445.1V114.2H445.5V119H445.9V112.6H446.2V113.4H446.6V114H447V115.8H447.3V111.8H447.7V112.9H448V114H448.4V113.8H448.8V112H449.1V117.5H449.8V119.3H450.2V116.5H450.6V113.7H450.9V113.4H451.3V114.5H451.7V112.6H452V115H452.4V117.7H452.7V116.6H453.1V116.1H453.5V115.4H453.8V120.2H454.2V117.5H454.5V119H454.9V124.9H455.3V116.3H455.6V120.5H456V119.8H456.4V116.8H456.7V118.5H457.1V117.3H457.4V117H457.8V121.3H458.2V117.8H458.5V114.2H458.9V122.1H459.2V119.9H459.6V117.4H460V118.4H460.3V120.7H460.7V118.7H461V120.2H461.4V122.5H461.8V120.1H462.1V123H462.5V122.1H462.9V121.2H463.2V115.8H463.6V127H463.9V116.8H464.3V121.3H464.7V112.3H465V120.5H465.4V122.8H465.7V116.8H466.1V117.7H466.5V131.2H466.8V127H467.2V118.1H467.6V126.9H467.9V122.2H468.3V126.8H468.6V119.2H469V124.9H469.4V125.5H469.7V122.1H470.1V120H470.4V133H470.8V121.3H471.2V129.3H471.5V121.7H471.9V119.5H472.2V125.2H472.6V114.2H473V120.8H473.3V126.2H473.7V114.8H474.1V119.5H474.4V123.4H474.8V126.2H475.1V131.1H475.5V129.9H475.9V124.8H476.2V113.6H476.6V126.1H476.9V125.4H477.3V123.6H477.7V126.3H478V119.1H478.4V130H478.8V125.9H479.1V118.1H479.5V125.2H479.8V129.2H480.2V125.8H480.6V124.9H480.9V131.2H481.3V126.3H481.6V124.7H482V126.2H482.4V124.8H482.7V114.8H483.1V106.5H483.4V107.8H483.8V123.4H484.2V125.9H484.5V118.5H484.9V125.7H485.3V129.3H485.6V130.1H486V119.1H486.3V128.9H486.7V128.7H487.4V134H487.8V108.3H488.1V121.2H488.5V120.2H488.9V134.2H489.2V125.4H489.6V132.3H490V124.3H490.3V125.8H490.7V122.9H491V130.2H491.4V122H491.8V125.7H492.1V129.6H492.5V123.8H492.8V116.9H493.2V116.8H493.6V121H493.9V134.7H494.3V121.9H494.7V128H495V131.6H495.4V123.4H495.7V128.4H496.1V123.5H496.5V130.6H496.8V131.3H497.2V121.6H497.5V128H497.9V120.1H498.3V116.1H498.6V110.5H499V101.6H499.3V93.1H499.7V72.1H500.1V61.6H500.4V76.1H500.8V99.7H501.2V111.8H501.5V124.3H501.9V137.6H502.2V134H502.6V132.9H503V126.1H503.3V120.3H503.7V120.8H504V106.8H504.4V106.1H504.8V105.2H505.1V98.5H505.5V88.6H505.9V74.7H506.2V55.4H506.6V44.8H506.9V72.4H507.3V83.8H507.7V100.6H508V116.3H508.4V132.2H508.7V144.8H509.1V163.8H509.5V158.9H509.8V149.4H510.2V140.5H510.5V134.7H510.9V127.7H511.3V113.9H511.6V105.6H512V93.9H512.4V75.2H512.7V82.4H513.1V102.6H513.4V117.7H513.8V124.3H514.2V135.7H514.5V148.4H514.9V150.1H515.2V158.9H515.6V165.4H516V168.5H516.3V171.1H516.7V177.3H518.5V176H518.9V177.3H519.9V172.3H520.3V177.3H520.7V166.5H521V177.3H522.5V174.9H522.8V177.3H523.6V176.8H523.9V177.3H524.6V168.3H525V177.3H526.8V173H527.2V177.3H527.5V159H527.9V177.3H530.1V166.3H530.4V175H530.8V177.3H531.5V158.7H531.9V177.3H532.2V169.9H532.6V177.3H533.7V163.7H534V162.7H534.4V173.5H534.8V165.3H535.1V171.3H535.5V169.6H535.8V166.2H536.2V165.5H536.6V163.5H536.9V161.5H537.3V159.5H537.6V157.5H538V153.9H538.4V148.9H538.7V143.9H539.1V139H539.5V133.3H539.8V121H540.2V108.7H540.5V89.3H540.9V55.4H541.3V53.7H541.6V85.2H542V111.3H542.3V123.9H542.7V136.6H543.1V144.7H543.4V150.7H543.8V156.7H544.2V160.3H544.5V159.8H544.9V159.3H545.2V158.8H545.6V151.1H546V136.2H546.3V117.3H546.7V101.1H547V113.3H547.4V143.5H547.8V156.4H548.1V167.9H548.5V177.3H549.2V168.9H549.6V177.3H549.9V162.4H550.3V177.3H585V153H585.7V177.3H608.5V138.4H609.2V177.3H643.9V152.8H644.6V177.3Z" fill="#dbbc66" fill-opacity="1" stroke="#555555" stroke-width="0.55" stroke-opacity="0.95"/>
<path d="M404.3 177.3V138.6H404.7V134H405V131.6H405.4V128.6H405.8V123H406.1V120.1H406.5V117.1H406.8V114.4H407.2V114.6H407.6V112.5H407.9V108.5H408.3V109.3H408.7V112.9H409V115.5H409.4V120.7H409.7V123.6H410.1V131.1H410.5V134.7H410.8V142.4H411.2V148.2H411.5V155.1H411.9V162.2H412.3V167.8H412.6V174.3H413V177.3Z" fill="#6fa7e8" fill-opacity="1" stroke="#555555" stroke-width="0.35" stroke-opacity="0.7"/>
<path d="M405.8 177.3V170.1H406.1V173.1H406.5V168.9H406.8V169.1H407.2V157.8H407.6V159.5H407.9V157.4H408.3V149.9H408.7V149H409V147.6H409.4V147H409.7V146.8H410.1V154.8H410.5V139.2H410.8V138.1H411.2V137.3H411.5V141.1H411.9V132.4H412.3V130.4H412.6V135.8H413V130.1H413.4V132H413.7V127.7H414.1V132.9H414.4V134.2H414.8V127H415.2V123.5H415.5V127.9H415.9V129.3H416.2V131.3H416.6V129.6H417V124.6H417.3V127.7H417.7V122.2H418V126.3H418.4V126.4H418.8V128H419.1V126.7H419.5V139.7H419.9V126.3H420.2V123.3H420.6V126.1H420.9V123H421.3V125.2H421.7V117.4H422V123.6H422.4V124H422.7V114.6H423.1V123.7H423.5V122.4H423.8V123.7H424.2V122.3H424.6V120.1H424.9V119.9H425.3V116.5H425.6V117.7H426V122.8H426.4V119.3H426.7V118.4H427.1V119.4H427.4V117.3H427.8V125.7H428.2V118.6H428.5V122H428.9V119.1H429.3V117.6H429.6V116.1H430V123.1H430.3V120.6H430.7V120.7H431.1V121.1H431.4V119.2H431.8V117.8H432.1V119H432.5V117.9H432.9V120.5H433.2V121.2H433.6V119.6H433.9V116.2H434.3V121.7H434.7V120H435V117.8H435.4V122.1H435.8V112H436.1V118.3H436.5V122.2H436.8V117.6H437.2V115.7H437.6V119.3H437.9V119.2H438.3V120.9H438.6V120.4H439V116.6H439.4V119.7H439.7V119.6H440.1V115.1H440.5V118.5H440.8V120.8H441.2V121.8H441.5V120.4H441.9V130H442.3V122.4H442.6V114.1H443V117.6H443.3V120.7H443.7V121.7H444.1V120.5H444.4V130.5H444.8V117.3H445.1V114.9H445.5V128.9H445.9V121.3H446.2V135.9H446.6V120.9H447V118.9H447.3V119.3H447.7V120.5H448V115.4H448.4V117.8H448.8V120.4H449.1V131.8H449.5V119.7H449.8V123.5H450.2V122.9H450.6V125.4H450.9V119.9H451.3V129.3H451.7V131.1H452V125.7H452.4V120.2H452.7V118.4H453.1V121.3H453.5V123H453.8V123.7H454.2V122.2H454.5V122.8H454.9V126.5H455.3V125.4H455.6V121.9H456V120H456.4V119.6H456.7V127.1H457.4V124.9H457.8V127.1H458.2V119.2H458.5V129.3H458.9V122.4H459.2V126.7H459.6V122.8H460V123.2H460.3V124.6H460.7V137.7H461V128.4H461.4V127.6H461.8V123.4H462.1V127.3H462.5V126.4H462.9V129H463.2V131.9H463.6V125.4H463.9V133.6H464.3V129H464.7V127.1H465V130.1H465.4V127.2H465.7V129.8H466.1V145.5H466.5V131.2H466.8V132.5H467.2V134.3H467.6V132.7H467.9V131.8H468.3V135.2H468.6V132.1H469V126.2H469.4V128.1H469.7V130.2H470.1V135.5H470.4V134.7H470.8V126.6H471.2V136.3H471.5V133.1H471.9V131.9H472.2V134.3H472.6V133.9H473V130.6H473.3V124.9H473.7V132.5H474.1V131.4H474.4V137.3H474.8V140.6H475.1V129.9H475.5V133.1H475.9V137.3H476.2V138.8H476.6V137.9H476.9V139.3H477.3V142H477.7V137.2H478V133.9H478.4V143.9H478.8V143.1H479.1V144.1H479.5V140.8H479.8V138H480.2V138.8H480.6V136.7H480.9V141.3H481.3V135.6H481.6V135.5H482V138.1H482.4V139H482.7V143.5H483.1V140.3H483.4V142.6H483.8V144H484.2V136H484.5V152.1H484.9V157.2H485.3V151.2H485.6V141.7H486V142.7H486.3V146.4H486.7V154.1H487.1V147.9H487.4V143H487.8V149H488.1V140.6H488.5V149H488.9V148.2H489.2V143.9H489.6V157.4H490V144.5H490.3V150.2H490.7V150.9H491V147.6H491.4V147.8H491.8V147.7H492.1V145.4H492.5V151.8H492.8V155.7H493.2V169.6H493.6V149.1H493.9V147.4H494.3V156.7H494.7V146.9H495V154.6H495.4V155.6H495.7V167.1H496.1V162H496.5V151H496.8V155.8H497.2V157.6H497.5V155H497.9V159.7H498.3V158.5H498.6V160.8H499V154.8H499.3V159.8H499.7V157.7H500.1V156.3H500.4V162H500.8V150.3H501.2V163.2H501.5V169H501.9V161.4H502.2V166.2H502.6V158.3H503V162.7H503.3V165.6H503.7V168.5H504V156.8H504.4V167.6H504.8V157.6H505.1V161.6H505.5V173.1H505.9V170.9H506.2V172.7H506.6V177.3H507.3V167.3H507.7V177H508V175.2H508.4V177.3H509.1V175.6H509.5V177.3Z" fill="#1b2de2" fill-opacity="1" stroke="#0c0c40" stroke-width="0.5" stroke-opacity="0.8"/>
<rect x="404.5" y="4" width="288.7" height="173.3" fill="none" stroke="#8f8f8f" stroke-width="0.8"/>
<path d="M404.5 177.3v-5M413.52 177.3v-2.6M422.54 177.3v-2.6M431.57 177.3v-2.6M440.59 177.3v-5M449.61 177.3v-2.6M458.63 177.3v-2.6M467.65 177.3v-2.6M476.68 177.3v-5M485.7 177.3v-2.6M494.72 177.3v-2.6M503.74 177.3v-2.6M512.76 177.3v-5M521.78 177.3v-2.6M530.81 177.3v-2.6M539.83 177.3v-2.6M548.85 177.3v-5M557.87 177.3v-2.6M566.89 177.3v-2.6M575.92 177.3v-2.6M584.94 177.3v-5M593.96 177.3v-2.6M602.98 177.3v-2.6M612 177.3v-2.6M621.03 177.3v-5M630.05 177.3v-2.6M639.07 177.3v-2.6M648.09 177.3v-2.6M657.11 177.3v-5M666.13 177.3v-2.6M675.16 177.3v-2.6M684.18 177.3v-2.6M693.2 177.3v-5M404.5 176.2h4.2M404.5 167.68h4.2M404.5 161.64h4.2M404.5 156.95h4.2M404.5 153.13h4.2M404.5 149.89h4.2M404.5 147.09h4.2M404.5 144.61h4.2M404.5 142.4h8M404.5 127.85h4.2M404.5 119.33h4.2M404.5 113.29h4.2M404.5 108.6h4.2M404.5 104.78h4.2M404.5 101.54h4.2M404.5 98.74h4.2M404.5 96.26h4.2M404.5 94.05h8M404.5 79.5h4.2M404.5 70.98h4.2M404.5 64.94h4.2M404.5 60.25h4.2M404.5 56.43h4.2M404.5 53.19h4.2M404.5 50.39h4.2M404.5 47.91h4.2M404.5 45.7h8M404.5 31.15h4.2M404.5 22.63h4.2M404.5 16.59h4.2M404.5 11.9h4.2M404.5 8.08h4.2M404.5 4.84h4.2" stroke="#8f8f8f" stroke-width="0.7" fill="none"/>
<text x="404.5" y="187.4" text-anchor="middle" class="t">0</text>
<text x="440.59" y="187.4" text-anchor="middle" class="t">0.2</text>
<text x="476.68" y="187.4" text-anchor="middle" class="t">0.4</text>
<text x="512.76" y="187.4" text-anchor="middle" class="t">0.6</text>
<text x="548.85" y="187.4" text-anchor="middle" class="t">0.8</text>
<text x="584.94" y="187.4" text-anchor="middle" class="t">1</text>
<text x="621.03" y="187.4" text-anchor="middle" class="t">1.2</text>
<text x="657.11" y="187.4" text-anchor="middle" class="t">1.4</text>
<text x="693.2" y="187.4" text-anchor="middle" class="t">1.6</text>
<text x="402.3" y="49.4" text-anchor="end" class="t">10<tspan dy="-3.8" font-size="6.2">−2</tspan></text>
<text x="402.3" y="97.75" text-anchor="end" class="t">10<tspan dy="-3.8" font-size="6.2">−3</tspan></text>
<text x="402.3" y="146.1" text-anchor="end" class="t">10<tspan dy="-3.8" font-size="6.2">−4</tspan></text>
<text x="689" y="195.7" text-anchor="end" class="t">Energy (MeV)</text>
<text transform="translate(380.5 183) rotate(-90)" class="t" textLength="179" lengthAdjust="spacingAndGlyphs">Number of Electrons per Primary Particle</text>
<rect x="548.3" y="4" width="144.9" height="65" fill="#fff" stroke="#8f8f8f" stroke-width="0.8"/>
<rect x="554.1" y="6.5" width="25.6" height="8.6" fill="url(#hx)" stroke="#a0a0a0" stroke-width="0.5"/>
<text x="585.3" y="13.4" class="t">Gamma PIXE</text>
<rect x="554.1" y="19.5" width="25.6" height="8.6" fill="#d2e9d9" stroke="#a0a0a0" stroke-width="0.5"/>
<text x="585.3" y="26.4" class="t">Electron ionization</text>
<rect x="554.1" y="32.5" width="25.6" height="8.6" fill="#dbbc66" stroke="#a0a0a0" stroke-width="0.5"/>
<text x="585.3" y="39.4" class="t">Electron conversion</text>
<rect x="554.1" y="45.5" width="25.6" height="8.6" fill="#6fa7e8" stroke="#a0a0a0" stroke-width="0.5"/>
<text x="585.3" y="52.4" class="t">Electron-pair production</text>
<rect x="554.1" y="58.5" width="25.6" height="8.6" fill="#1b2de2" stroke="#a0a0a0" stroke-width="0.5"/>
<text x="585.3" y="65.4" class="t">Other processes</text>
<text x="417.5" y="24.3" class="big" textLength="69.7" lengthAdjust="spacingAndGlyphs">Cs-134</text>
<text x="350.0" y="16.0" class="pn" textLength="12.9" lengthAdjust="spacingAndGlyphs">B</text>
</g>
<g id="panelC">
<path d="M404.3 392.9V287.8H404.7V285.2H405V282.2H405.4V279.5H405.8V278H406.1V276.5H406.5V275H406.8V273.4H407.2V272.4H407.6V271.9H407.9V271.8H408.3V271.7H409V271.2H409.4V271H409.7V270.8H410.1V270.5H410.8V270.3H411.2V270.2H411.5V270H412.3V270.1H412.6V269.7H413V270.1H413.4V269.7H413.7V269.6H414.1V269.8H414.4V269.5H414.8V269.3H415.2V269.6H415.5V269.2H415.9V269.3H416.2V269.4H416.6V269.1H417V269.3H417.3V269.2H417.7V269.6H418V269.4H418.4V269.6H418.8V269.7H419.5V269.9H420.2V270.1H420.6V270H420.9V270.3H421.3V270H421.7V270.3H422V270.4H422.7V270.6H423.1V270.5H423.5V270.8H424.2V270.9H424.6V271.3H424.9V271.1H425.3V271.3H425.6V271.2H426V271.3H426.7V271.7H427.1V271.6H427.4V271.9H427.8V272.1H428.2V272.3H428.5V272.4H429.3V272.6H429.6V272.5H430V272.7H430.3V272.9H431.1V273.1H431.4V273.3H432.1V273.5H433.2V273.9H433.6V273.7H433.9V273.9H434.3V274.2H434.7V274.4H435V274.6H435.4V274.8H435.8V274.6H436.1V275H436.8V275.1H437.2V275.4H437.6V275.3H438.3V275.5H438.6V275.7H439V275.8H439.4V275.9H439.7V276.2H440.8V276.3H441.2V276.6H442.3V276.9H442.6V277H443V277.2H443.7V277.4H444.1V277.6H444.4V277.8H444.8V277.9H445.1V278.1H445.5V278.3H445.9V278.5H446.2V278.8H446.6V279.1H447V279.2H447.3V279.3H447.7V279.5H448V279.8H448.4V280H448.8V280.1H449.1V280.3H449.5V280.5H450.2V280.9H450.6V281.2H450.9V281.1H451.3V281.6H451.7V281.8H452.4V282.1H452.7V282.4H453.5V282.7H453.8V282.9H454.2V283.4H454.5V283.2H454.9V283.6H455.3V283.9H456V284.4H456.4V284.3H456.7V284.8H457.1V285H457.4V285.2H457.8V285.7H458.2V285.9H458.5V286.1H458.9V286.3H459.2V286.6H459.6V286.9H460V287.1H460.3V287.3H460.7V287.7H461V287.9H461.4V288.2H461.8V288.5H462.1V288.8H462.5V288.9H462.9V289.2H463.2V289.4H463.6V289.7H463.9V290H464.3V290.1H464.7V290.4H465V290.7H465.4V290.9H465.7V291.2H466.1V291.7H466.5V291.6H466.8V292H467.2V292.3H467.6V292.7H467.9V293H468.3V293.4H468.6V293.8H469V294.2H469.7V294.8H470.1V295H470.4V295.5H470.8V295.6H471.2V296.2H471.9V296.7H472.2V297H472.6V297.5H473V297.6H473.3V298H473.7V298.4H474.1V298.7H474.4V299.3H474.8V299.9H475.5V300.5H475.9V300.7H476.2V301.3H476.6V301.8H476.9V302.3H477.3V302.4H477.7V303H478V303.4H478.4V304H478.8V304.2H479.1V304.5H479.5V305.2H479.8V305.4H480.2V306.3H480.6V307H480.9V307.9H481.3V308.4H481.6V309.4H482V310.3H482.4V310.8H482.7V311.8H483.1V312.6H483.4V313.1H483.8V313.8H484.2V314.7H484.5V315.6H484.9V315.7H485.3V317.3H485.6V317.9H486V318.8H486.3V319.4H486.7V320.4H487.1V321H487.4V322.1H487.8V322.8H488.1V324H488.5V324.8H488.9V325.6H489.2V327.4H489.6V327.7H490V327.6H490.3V329.1H490.7V329.6H491V329.1H491.4V330.9H491.8V331.6H492.1V331.8H492.8V332H493.2V333.3H493.6V334.3H493.9V334.4H494.3V334.2H494.7V335.1H495V335.8H495.4V335.6H495.7V334.9H496.1V336H496.5V336.4H496.8V336.2H497.2V336.8H497.5V337.3H497.9V337H498.3V336.8H499V335.7H499.3V337.4H499.7V336.8H500.1V336.4H500.4V336.8H500.8V336.1H501.2V335.1H501.5V334.5H501.9V335.3H502.2V333.9H502.6V336.3H503V336.4H503.3V335.6H503.7V333.5H504V334.9H504.4V333.8H504.8V334.2H505.1V334.7H505.5V333.8H505.9V333.7H506.2V332.9H506.6V333.3H506.9V332.3H507.3V331.1H507.7V330.6H508V330.8H508.4V330.5H508.7V330H509.5V329.2H509.8V328.1H510.2V328.9H510.5V327.4H510.9V326H511.3V324.8H511.6V324H512V322.7H512.4V321.1H512.7V319.9H513.1V318.9H513.4V317.6H513.8V316.5H514.2V314.7H514.5V309.1H514.9V303.5H515.2V297.8H515.6V292.2H516V273.3H516.3V229.3H517.1V302H517.4V323.1H517.8V336.4H518.1V339.7H518.5V343.1H518.9V345.9H519.2V345.5H519.6V345H519.9V344.5H520.3V344H520.7V338H521V331.8H521.4V325.5H521.8V312.6H522.1V299H522.5V271.6H522.8V267.4H523.2V310.7H523.6V339.7H523.9V354.4H524.3V358.6H524.6V378H525V358.6H525.4V360.8H525.7V357.2H526.1V375.3H526.4V358.4H526.8V359.4H527.2V360.5H527.5V366H527.9V358.1H528.3V358.3H528.6V377.1H529V358.8H529.3V358.5H530.1V359.4H530.4V357.1H530.8V359.7H531.1V370.8H531.5V360.1H531.9V357.3H532.2V356.7H532.6V360.6H533V359.4H533.3V362.3H533.7V359.8H534V360H534.8V362.4H535.1V359.2H535.5V362.5H535.8V360.4H536.2V361.4H536.6V374H536.9V360.7H537.3V362.6H537.6V362H538V357.4H538.4V363.7H538.7V362.2H539.1V363.2H539.5V362.8H539.8V361.6H540.2V360.7H540.5V359.6H540.9V376.8H541.3V359.3H541.6V364.8H542V361.3H542.3V362.2H542.7V367.1H543.1V377.9H543.4V362.2H543.8V364.3H544.2V366.6H544.5V366.3H544.9V377.9H545.2V365H545.6V381.3H546V366.3H546.3V366.2H546.7V362.1H547V361.3H547.4V365.3H547.8V369.6H548.1V361.8H548.5V369.2H548.9V365.4H549.2V365.5H549.6V369.7H549.9V364.8H550.3V366.7H550.7V361.2H551V363H551.4V362.1H551.7V370.5H552.1V366.8H552.5V373.6H552.8V365.8H553.2V366.7H553.5V373.3H553.9V371.9H554.3V370.9H554.6V372.2H555V373.1H555.4V370.9H555.7V374.9H556.1V369.6H556.4V370.4H556.8V370.5H557.2V391H557.5V368.5H557.9V369.7H558.2V388.8H558.6V377.9H559V392.9H559.3V370.9H559.7V375.2H560.1V373H560.4V383.1H560.8V374.8H561.1V369.2H561.5V370.5H561.9V372.9H562.2V376.6H562.6V370.6H562.9V372.4H563.3V373H563.7V381.1H564V377.5H564.4V378.1H564.7V366.7H565.1V392.9H565.8V382.5H566.2V386.5H566.6V379.7H566.9V379.6H567.3V379.9H567.6V380.3H568V392.7H568.4V372.5H568.7V378.1H569.1V375.7H569.4V383.5H569.8V379.6H570.2V387.2H570.5V385.2H570.9V381.2H571.3V392.9H571.6V375.9H572V382.5H572.3V382.7H572.7V376.8H573.1V378.8H573.4V373.6H573.8V381H574.1V377.4H574.5V383.2H574.9V382.9H575.2V382.5H575.6V386.1H575.9V385.4H576.3V387H576.7V382.4H577V384.9H577.4V384.1H577.8V379.7H578.1V392.9H578.8V379.7H579.2V384.9H579.6V377.6H579.9V385.1H580.3V382.6H580.6V392.9H581V387.3H581.4V383.4H581.7V386.8H582.1V392.9H582.5V387.4H582.8V392.9H583.5V388.3H583.9V392.9H584.3V389.9H584.6V390.2H585V391.7H585.3V387.8H585.7V392.9H587.9V390.1H588.2V392.9Z" fill="url(#hx)" fill-opacity="1" stroke="#555555" stroke-width="0.55" stroke-opacity="0.95"/>
<path d="M411.2 392.9V391.8H411.5V390.9H411.9V388.5H412.3V383.7H412.6V383.4H413V379.8H413.4V378.9H413.7V375.3H414.1V375.8H414.4V372.1H414.8V371.6H415.2V370.9H415.5V369.4H415.9V369.6H416.2V369H416.6V366.8H417V376.5H417.3V371.3H417.7V367H418V364.2H418.4V364.5H418.8V361.8H419.1V360.6H419.5V362.2H419.9V363.6H420.2V370.3H420.6V361H420.9V362.9H421.3V362.8H421.7V363.3H422V374.7H422.4V361.4H422.7V364.6H423.5V363.8H423.8V362.3H424.2V363.3H424.6V362.3H424.9V364.9H425.3V361.3H425.6V362.8H426V364.7H426.4V363.5H426.7V366.1H427.1V364.3H427.4V362.1H427.8V363.7H428.2V365.5H428.5V366.8H428.9V365.6H429.3V362.7H429.6V364.2H430V363H430.3V361.1H430.7V366.8H431.1V363H431.4V365.3H432.1V362.4H432.5V363.3H432.9V364.4H433.2V361.7H433.6V364.4H433.9V363.4H434.3V370.4H434.7V361.9H435V363.6H435.4V363.3H435.8V361.9H436.1V362.5H436.5V361.7H436.8V360.6H437.2V362.6H437.6V364H437.9V360.2H438.3V362.8H438.6V365.6H439V362.7H439.4V363.5H439.7V361.8H440.1V363.8H440.5V363.2H440.8V362.3H441.2V359.4H441.5V361.5H441.9V361.2H442.3V366.5H442.6V359.7H443V360.3H443.3V363.1H443.7V358.8H444.1V358H444.4V363H444.8V374H445.1V372.8H445.5V362.1H445.9V359.9H446.2V363.1H446.6V360.3H447V359.7H447.3V359H447.7V362H448V360H448.4V360.7H448.8V366.8H449.1V360.3H449.5V360.1H449.8V361.2H450.2V359.5H450.6V361.1H450.9V375.5H451.3V359H451.7V358.4H452V361.6H452.4V360.6H452.7V362H453.1V362.2H453.5V358.6H453.8V360.4H454.2V358.4H454.5V358.5H454.9V357H455.3V361.8H455.6V358H456V358.7H456.4V360.3H456.7V359H457.1V362.6H457.4V369.1H457.8V358H458.2V355.9H458.5V362H458.9V358.9H459.2V360.4H459.6V359.5H460V358.6H460.3V357.2H460.7V356.1H461V359.4H461.4V357.4H461.8V360.1H462.1V357.1H462.5V369.4H462.9V358.2H463.2V360H463.6V357.3H463.9V361.2H464.3V357H464.7V356.5H465V358.1H465.4V352.9H465.7V355.8H466.1V356.8H466.5V357.9H466.8V357.2H467.2V357.8H467.6V355.9H467.9V358.7H468.3V357.2H468.6V356.7H469V357.6H469.4V356.2H469.7V358.9H470.1V368.9H470.4V356.5H470.8V358.4H471.2V366.3H471.5V359.3H471.9V358H472.2V368.6H472.6V356.1H473V350.7H473.3V355.4H473.7V354.3H474.1V354.8H474.4V355.6H474.8V355.4H475.1V354.6H475.5V355.3H475.9V357.3H476.2V355.9H476.6V358H476.9V351.4H477.3V356.4H477.7V355.9H478V354H478.4V358H478.8V356.3H479.1V357.2H479.5V353.4H479.8V355H480.2V354.6H480.6V352H480.9V353.3H481.3V350.8H481.6V354.2H482V353.6H482.4V366.3H482.7V352.2H483.1V369.5H483.4V354.9H483.8V353.9H484.2V352.4H484.5V351.6H484.9V351.1H485.3V355H485.6V351.3H486V354.1H486.3V351.5H486.7V352.5H487.1V351.7H487.4V353.2H487.8V350.2H488.1V352.6H488.5V355.2H488.9V350.6H489.2V358.3H489.6V352.6H490V350.2H490.3V351.5H490.7V349.6H491V349.5H491.4V349.7H491.8V352.3H492.1V349H492.5V349.3H492.8V349.4H493.2V349.1H493.6V353.3H493.9V350.8H494.3V364.8H494.7V349.1H495V349.4H495.4V350.9H495.7V352.3H496.1V349.5H496.5V349.3H496.8V350.6H497.2V349H497.5V348H497.9V349.7H498.3V350.1H498.6V350.9H499V351.2H499.3V351.1H499.7V363.3H500.1V349.5H500.4V348.9H500.8V347.9H501.2V349.1H501.5V348.5H501.9V348.9H502.2V350.7H502.6V349.2H503V347.6H503.3V350.3H503.7V346.2H504V346.7H504.4V349.8H504.8V345.4H505.1V345.5H505.5V346.8H505.9V346.4H506.2V345.4H506.6V345.1H506.9V343H507.3V343.7H507.7V342.8H508V342.3H508.4V342.4H508.7V342.7H509.1V343.5H509.5V338.5H509.8V338.3H510.2V337.5H510.5V340.3H510.9V334.3H511.3V335.2H511.6V347.4H512V331.2H512.4V335.5H512.7V332.5H513.1V328.6H513.4V325.8H513.8V322.9H514.2V320.1H514.5V317.3H514.9V313.7H515.2V306.8H515.6V299.9H516V293H516.3V255.8H517.1V299.8H517.4V326.5H517.8V346.8H518.1V366H519.6V360.7H519.9V353.5H520.3V346.3H520.7V340H521V333.8H521.4V327.5H521.8V314.6H522.1V301H522.5V272.3H522.8V267.8H523.2V290.1H523.6V392.9Z" fill="#dbbc66" fill-opacity="1" stroke="#555555" stroke-width="0.55" stroke-opacity="0.95"/>
<path d="M404.3 392.9V294.5H404.7V296.1H405V295.1H405.4V296H405.8V296.5H406.1V297.5H406.5V296.6H406.8V297.4H407.2V297.6H407.6V299H407.9V300.7H408.3V301.7H408.7V304.7H409V307.2H409.4V309.8H409.7V310.3H410.1V314H410.5V318H410.8V323.3H411.2V328H411.5V331.7H411.9V336.2H412.3V336.5H412.6V338.2H413V339H413.4V341.7H413.7V343H414.1V342.9H414.4V345.9H414.8V345H415.2V348.9H415.5V346.4H415.9V350.2H416.2V349.8H416.6V353.9H417V354.8H417.3V354.7H417.7V359.1H418V355.8H418.4V361.8H418.8V360.5H419.1V359.5H419.5V361H419.9V363.9H420.2V368.2H420.6V369.8H420.9V364.8H421.3V370.9H421.7V370.3H422V373.2H422.4V376.4H422.7V374.7H423.1V376.2H423.5V379.3H423.8V386H424.2V386.6H424.6V389.2H424.9V392H425.3V392.9Z" fill="#d2e9d9" fill-opacity="0.92" stroke="#555555" stroke-width="0.4" stroke-opacity="0.75"/>
<path d="M404.3 392.9V332.6H404.7V329.4H405V325.8H405.4V322.8H405.8V324H406.1V324.6H406.5V325.3H406.8V329.1H407.2V333.2H407.6V334.6H407.9V337.5H408.3V342.9H408.7V345.4H409V348.7H409.4V352.8H409.7V359.6H410.1V365.9H410.5V392.9Z" fill="#6fa7e8" fill-opacity="1" stroke="#555555" stroke-width="0.35" stroke-opacity="0.7"/>
<path d="M421.3 392.9V392.2H421.7V391.4H422V388.7H422.4V392.9H422.7V390.3H423.1V389.1H423.5V387.8H423.8V392.9H424.2V389.2H424.6V392.9H424.9V388.8H425.3V392.9H428.5V388.6H428.9V392.9H429.3V391.8H429.6V392.9H430.3V388.6H430.7V389.8H431.1V392.9H431.4V392.7H431.8V390.3H432.1V387.5H432.5V392.9H433.2V388.3H433.6V392.9H434.3V391.8H434.7V392.7H435V391.3H435.4V392.9H436.1V385.4H436.5V391.4H436.8V391.5H437.2V392.9H437.9V382.5H438.3V392.9H439V387.9H439.4V392H439.7V392.9H440.1V384.7H440.5V389.9H440.8V392.9H441.5V388H441.9V392.9H442.6V384.7H443V385.8H443.3V392.9H444.1V387.8H444.4V382.2H444.8V392.9H445.1V388H445.5V381.2H445.9V392.9H446.2V389.7H446.6V387.2H447V388.1H447.3V392.9H448.4V382.1H448.8V392.9H449.5V383.5H449.8V381.9H450.2V392.9H451.7V384.5H452V382H452.4V391H452.7V392.9H453.1V382.7H453.5V386.2H453.8V392.9H454.9V392.2H455.3V392.9H457.1V390H457.4V392.5H457.8V392.9H458.5V390H458.9V392.9H470.8V390H471.2V392.9H472.2V390H472.6V392.9Z" fill="#1b2de2" fill-opacity="1" stroke="#10104a" stroke-width="0.3" stroke-opacity="0.6"/>
<rect x="404.5" y="219.5" width="288.7" height="173.4" fill="none" stroke="#8f8f8f" stroke-width="0.8"/>
<path d="M404.5 392.9v-5M413.52 392.9v-2.6M422.54 392.9v-2.6M431.57 392.9v-2.6M440.59 392.9v-5M449.61 392.9v-2.6M458.63 392.9v-2.6M467.65 392.9v-2.6M476.68 392.9v-5M485.7 392.9v-2.6M494.72 392.9v-2.6M503.74 392.9v-2.6M512.76 392.9v-5M521.78 392.9v-2.6M530.81 392.9v-2.6M539.83 392.9v-2.6M548.85 392.9v-5M557.87 392.9v-2.6M566.89 392.9v-2.6M575.92 392.9v-2.6M584.94 392.9v-5M593.96 392.9v-2.6M602.98 392.9v-2.6M612 392.9v-2.6M621.03 392.9v-5M630.05 392.9v-2.6M639.07 392.9v-2.6M648.09 392.9v-2.6M657.11 392.9v-5M666.13 392.9v-2.6M675.16 392.9v-2.6M684.18 392.9v-2.6M693.2 392.9v-5M404.5 392.4h8M404.5 377.83h4.2M404.5 369.31h4.2M404.5 363.26h4.2M404.5 358.57h4.2M404.5 354.74h4.2M404.5 351.5h4.2M404.5 348.69h4.2M404.5 346.21h4.2M404.5 344h8M404.5 329.43h4.2M404.5 320.91h4.2M404.5 314.86h4.2M404.5 310.17h4.2M404.5 306.34h4.2M404.5 303.1h4.2M404.5 300.29h4.2M404.5 297.81h4.2M404.5 295.6h8M404.5 281.03h4.2M404.5 272.51h4.2M404.5 266.46h4.2M404.5 261.77h4.2M404.5 257.94h4.2M404.5 254.7h4.2M404.5 251.89h4.2M404.5 249.41h4.2M404.5 247.2h8M404.5 232.63h4.2M404.5 224.11h4.2" stroke="#8f8f8f" stroke-width="0.7" fill="none"/>
<text x="404.5" y="402.7" text-anchor="middle" class="t">0</text>
<text x="440.59" y="402.7" text-anchor="middle" class="t">0.2</text>
<text x="476.68" y="402.7" text-anchor="middle" class="t">0.4</text>
<text x="512.76" y="402.7" text-anchor="middle" class="t">0.6</text>
<text x="548.85" y="402.7" text-anchor="middle" class="t">0.8</text>
<text x="584.94" y="402.7" text-anchor="middle" class="t">1</text>
<text x="621.03" y="402.7" text-anchor="middle" class="t">1.2</text>
<text x="657.11" y="402.7" text-anchor="middle" class="t">1.4</text>
<text x="693.2" y="402.7" text-anchor="middle" class="t">1.6</text>
<text x="402.3" y="250.9" text-anchor="end" class="t">10<tspan dy="-3.8" font-size="6.2">−1</tspan></text>
<text x="402.3" y="299.3" text-anchor="end" class="t">10<tspan dy="-3.8" font-size="6.2">−2</tspan></text>
<text x="402.3" y="347.7" text-anchor="end" class="t">10<tspan dy="-3.8" font-size="6.2">−3</tspan></text>
<text x="402.3" y="396.1" text-anchor="end" class="t">10<tspan dy="-3.8" font-size="6.2">−4</tspan></text>
<text x="689" y="411.3" text-anchor="end" class="t">Energy (MeV)</text>
<text transform="translate(380.5 399) rotate(-90)" class="t" textLength="179.5" lengthAdjust="spacingAndGlyphs">Number of Electrons per Primary Particle</text>
<rect x="548.3" y="219.2" width="144.9" height="65.1" fill="#fff" stroke="#8f8f8f" stroke-width="0.8"/>
<rect x="554.1" y="222" width="25.6" height="8.6" fill="url(#hx)" stroke="#a0a0a0" stroke-width="0.5"/>
<text x="585.3" y="228.9" class="t">Gamma PIXE</text>
<rect x="554.1" y="235" width="25.6" height="8.6" fill="#d2e9d9" stroke="#a0a0a0" stroke-width="0.5"/>
<text x="585.3" y="241.9" class="t">Electron ionization</text>
<rect x="554.1" y="248" width="25.6" height="8.6" fill="#dbbc66" stroke="#a0a0a0" stroke-width="0.5"/>
<text x="585.3" y="254.9" class="t">Electron conversion</text>
<rect x="554.1" y="261" width="25.6" height="8.6" fill="#6fa7e8" stroke="#a0a0a0" stroke-width="0.5"/>
<text x="585.3" y="267.9" class="t">Electron-pair production</text>
<rect x="554.1" y="274" width="25.6" height="8.6" fill="#1b2de2" stroke="#a0a0a0" stroke-width="0.5"/>
<text x="585.3" y="280.9" class="t">Other processes</text>
<text x="417.5" y="239.1" class="big" textLength="69.5" lengthAdjust="spacingAndGlyphs">Cs-137</text>
<text x="351.0" y="232.4" class="pn" textLength="13.0" lengthAdjust="spacingAndGlyphs">C</text>
</g>
</svg></body></html>
